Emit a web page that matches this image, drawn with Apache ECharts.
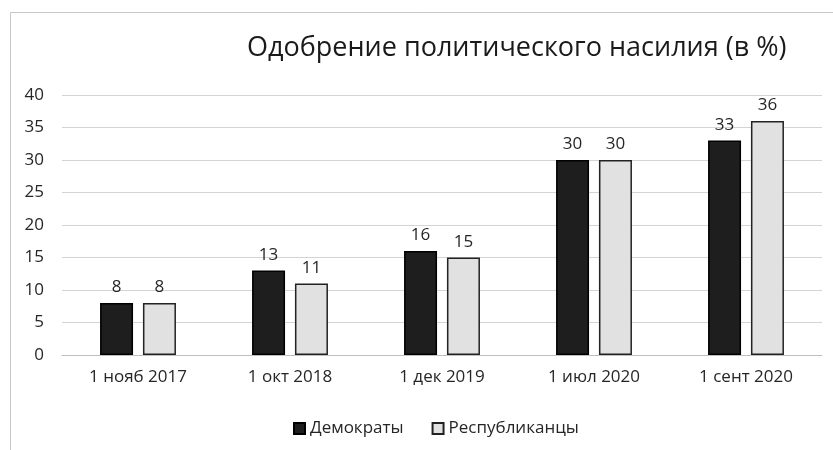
<!DOCTYPE html>
<html><head><meta charset="utf-8">
<script src="https://cdn.jsdelivr.net/npm/echarts@6/dist/echarts.min.js"></script>
<style>html,body{margin:0;padding:0;background:#fff}#c{width:833px;height:450px}</style>
</head><body><div id="c"></div>
<script>
const categories = ['1 нояб 2017', '1 окт 2018', '1 дек 2019', '1 июл 2020', '1 сент 2020'];
const democrats = [8, 13, 16, 30, 33];
const republicans = [8, 11, 15, 30, 36];
const titleText = 'Одобрение политического насилия (в %)';
const seriesNames = ['Демократы', 'Республиканцы'];

const FONT = '"Open Sans", "Noto Sans", sans-serif';
const chart = echarts.init(document.getElementById('c'), null, {renderer: 'canvas'});
chart.setOption({
  animation: false,
  backgroundColor: '#fff',
  textStyle: {fontFamily: FONT},
  graphic: [
    {type: 'line', shape: {x1: 10.5, y1: 12.5, x2: 833, y2: 12.5}, style: {stroke: '#c8c8c8', lineWidth: 1}},
    {type: 'line', shape: {x1: 10.5, y1: 12.5, x2: 10.5, y2: 450}, style: {stroke: '#c8c8c8', lineWidth: 1}}
  ],
  title: {
    text: titleText, left: 242, top: 30,
    textStyle: {fontFamily: FONT, fontSize: 27, fontWeight: 'normal', color: '#1a1a1a'}
  },
  legend: {
    data: seriesNames, top: 415, left: 288, itemWidth: 11, itemHeight: 11, itemGap: 28, icon: 'rect',
    textStyle: {fontFamily: FONT, fontSize: 17, color: '#262626'}
  },
  grid: {left: 62, right: 11, top: 95, bottom: 95},
  xAxis: {
    type: 'category', data: categories,
    axisLine: {lineStyle: {color: '#bfbfbf'}}, axisTick: {show: false},
    axisLabel: {fontSize: 17, color: '#262626', margin: 14, fontFamily: FONT}
  },
  yAxis: {
    type: 'value', min: 0, max: 40, interval: 5,
    axisLine: {show: false}, axisTick: {show: false},
    axisLabel: {fontSize: 17, color: '#262626', margin: 18, fontFamily: FONT},
    splitLine: {lineStyle: {color: '#d4d4d4'}}
  },
  series: [
    {name: seriesNames[0], type: 'bar', data: democrats, barWidth: 33, barGap: '30%',
     itemStyle: {color: '#1e1e1e', borderColor: '#000', borderWidth: 1.5},
     label: {show: true, position: 'top', distance: 7, fontSize: 17, color: '#262626', fontFamily: FONT}},
    {name: seriesNames[1], type: 'bar', data: republicans, barWidth: 33,
     itemStyle: {color: '#e1e1e1', borderColor: '#222', borderWidth: 1.5},
     label: {show: true, position: 'top', distance: 7, fontSize: 17, color: '#262626', fontFamily: FONT}}
  ]
});
</script></body></html>
